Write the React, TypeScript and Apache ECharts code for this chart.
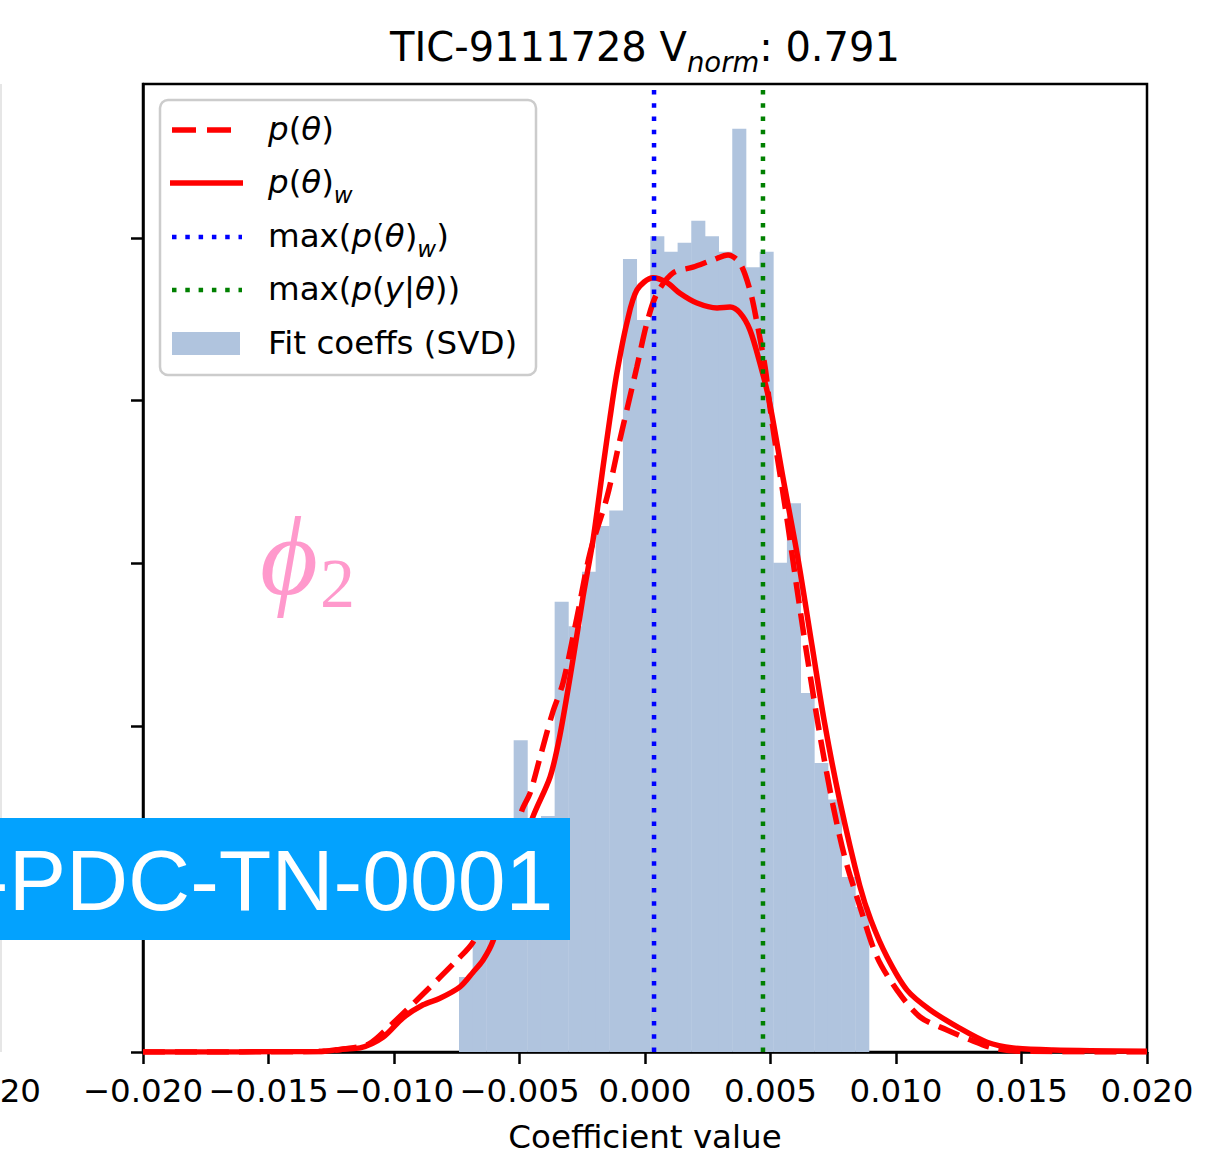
import React, { useEffect, useRef } from 'react';
import * as echarts from 'echarts';

// ---------- data ----------
const xTickMin = -0.02;
const xTickMax = 0.02;
const xTickStep = 0.005;
const yTickValues = [0, 20, 40, 60, 80, 100];
const yMax = 118.9;

// histogram (30 bins between binLo and binHi)
const binLo = -0.00741;
const binHi = 0.00892;
const histCounts = [
  9.2, 15.0, 18.7, 22.4, 38.3, 28.7, 29.0, 55.3, 52.3, 59.0,
  64.6, 66.5, 97.4, 89.9, 100.2, 98.3, 99.4, 102.1, 100.2, 98.3,
  113.4, 96.4, 98.3, 60.1, 67.4, 44.1, 35.5, 31.0, 21.5, 17.8,
];

// p(theta)_w  (solid)
const pwX = [
  -0.02, -0.013, -0.012, -0.01135, -0.01044, -0.00964, -0.00884, -0.00817, -0.00737, -0.00685,
  -0.00645, -0.00606, -0.00526, -0.00449, -0.00378, -0.00339, -0.00287, -0.00247, -0.00207, -0.00167,
  -0.00139, -0.00112, -0.00072, -0.00032, 0.00032, 0.00088, 0.00139, 0.00207, 0.00287, 0.00339,
  0.00378, 0.00418, 0.00458, 0.00495, 0.0055, 0.0061, 0.00665, 0.00715, 0.00775, 0.00855,
  0.009, 0.00964, 0.01044, 0.01135, 0.01255, 0.01363, 0.01466, 0.01625, 0.02,
];
const pwY = [
  0, 0.05, 0.37, 0.5, 1.8, 4.2, 5.8, 6.6, 8.0, 9.8,
  11.3, 13.6, 21.1, 28.7, 33.8, 38.9, 48.2, 55.9, 62.9, 71.9,
  78.0, 83.4, 89.6, 93.6, 95.1, 94.5, 93.2, 92.0, 91.4, 91.5,
  90.8, 88.7, 84.6, 80.0, 70.5, 60.5, 50.0, 40.5, 31.0, 20.5,
  16.2, 11.7, 7.6, 5.2, 2.9, 1.2, 0.5, 0.25, 0.1,
];

// p(theta)  (dashed)
const pX = [
  -0.02, -0.013, -0.012, -0.011, -0.0102, -0.00948, -0.00829, -0.00749, -0.00685, -0.00586,
  -0.0049, -0.00458, -0.00418, -0.00367, -0.00327, -0.00271, -0.00219, -0.00151, -0.001, -0.00072,
  -0.00032, 0.00008, 0.00048, 0.00112, 0.00191, 0.00271, 0.00331, 0.00378, 0.00418, 0.00446,
  0.00478, 0.00498, 0.00526, 0.00566, 0.00606, 0.00645, 0.00697, 0.00749, 0.00797, 0.00857,
  0.00924, 0.01004, 0.01096, 0.01203, 0.01295, 0.01386, 0.01494, 0.02,
];
const pY = [
  0, 0.05, 0.37, 1.0, 3.1, 5.2, 8.8, 11.3, 13.5, 19.9,
  29.7, 31.8, 36.2, 41.8, 45.3, 53.4, 61.3, 68.2, 75.2, 78.9,
  84.2, 89.6, 93.2, 95.7, 96.4, 97.3, 97.9, 96.9, 93.6, 89.6,
  84.2, 79.2, 73.3, 65.4, 56.8, 48.8, 38.9, 30.3, 23.8, 17.8,
  11.7, 7.6, 4.3, 2.7, 1.5, 0.5, 0.1, 0,
];

const maxPThetaW = 0.00036;
const maxPYTheta = 0.0047;

const FONT = "'DejaVu Sans', sans-serif";
const SERIF = "'Liberation Serif', 'DejaVu Serif', serif";

function fmtTick(v: number): string {
  const s = Math.abs(v).toFixed(3);
  return (v < -1e-9 ? '\u2212' : '') + s;
}

const legendRich: any = {
  r: { fontSize: 32.5, fontFamily: FONT, fill: '#000', color: '#000', lineHeight: 40, verticalAlign: 'top' },
  i: { fontSize: 32.5, fontFamily: FONT, fontStyle: 'italic', fill: '#000', color: '#000', lineHeight: 40, verticalAlign: 'top' },
  s: { fontSize: 23, fontFamily: FONT, fontStyle: 'italic', fill: '#000', color: '#000', lineHeight: 23, padding: [18, 0, 0, 0], verticalAlign: 'top' },
};

export default function App() {
  const ref = useRef<HTMLDivElement>(null);

  useEffect(() => {
    if (!ref.current) return;
    const chart = echarts.init(ref.current, undefined, { renderer: 'svg' });

    const binW = (binHi - binLo) / histCounts.length;
    const histData = histCounts.map((c, i) => [binLo + i * binW, binLo + (i + 1) * binW, c]);

    const legendX0 = 172;
    const legendTextX = 268;
    const rows = [130, 183, 237, 290, 343];
    const LZ = 60;
    const BZ = 100;

    const option: any = {
      animation: false,
      backgroundColor: '#ffffff',
      grid: {
        left: 143, right: 82, top: 84, bottom: 101,
        outerBoundsMode: 'none', containLabel: false,
        show: true, borderColor: '#000', borderWidth: 2.5, backgroundColor: 'transparent',
      },
      xAxis: {
        type: 'value', min: xTickMin, max: xTickMax, interval: xTickStep,
        axisLine: { show: true, onZero: false, lineStyle: { color: '#000', width: 2.5 } },
        axisTick: { show: true, length: 12, lineStyle: { color: '#000', width: 2.5 } },
        axisLabel: { margin: 22, fontSize: 32.5, color: '#000', fontFamily: FONT, formatter: fmtTick },
        splitLine: { show: false },
        name: 'Coefficient value', nameLocation: 'middle', nameGap: 70,
        nameTextStyle: { fontSize: 32.5, color: '#000', fontFamily: FONT, lineHeight: 30 },
      },
      yAxis: {
        type: 'value', min: 0, max: yMax, interval: 20,
        axisLine: { show: true, onZero: false, lineStyle: { color: '#000', width: 2.5 } },
        axisTick: { show: true, length: 12, customValues: yTickValues, lineStyle: { color: '#000', width: 2.5 } },
        axisLabel: { show: false },
        splitLine: { show: false },
      },
      series: [
        {
          type: 'custom', name: 'Fit coeffs (SVD)', z: 1, silent: true,
          data: histData,
          encode: { x: [0, 1], y: 2 },
          renderItem: (params: any, api: any) => {
            const x0 = api.value(0), x1 = api.value(1), h = api.value(2);
            const p0 = api.coord([x0, h]);
            const p1 = api.coord([x1, 0]);
            return {
              type: 'rect',
              shape: { x: p0[0], y: p0[1], width: p1[0] - p0[0] + 0.4, height: p1[1] - p0[1] },
              style: { fill: '#b0c4de' },
            };
          },
        },
        {
          type: 'line', name: 'p(θ)', z: 3, symbol: 'none', smooth: 0.3, silent: true,
          data: pX.map((x, i) => [x, pY[i]]),
          lineStyle: { color: '#ff0000', width: 5.5, type: [22, 10], cap: 'butt' },
        },
        {
          type: 'line', name: 'p(θ)_w', z: 3, symbol: 'none', smooth: 0.3, silent: true,
          data: pwX.map((x, i) => [x, pwY[i]]),
          lineStyle: { color: '#ff0000', width: 5.5 },
        },
        {
          type: 'line', name: 'max(p(θ)_w)', z: 4, symbol: 'none', silent: true,
          data: [[maxPThetaW, 0], [maxPThetaW, yMax]],
          lineStyle: { color: '#0000ff', width: 4.5, type: [4.5, 8.8], cap: 'butt' },
        },
        {
          type: 'line', name: 'max(p(y|θ))', z: 4, symbol: 'none', silent: true,
          data: [[maxPYTheta, 0], [maxPYTheta, yMax]],
          lineStyle: { color: '#008000', width: 4.5, type: [4.5, 8.8], cap: 'butt' },
        },
      ],
      graphic: [
        // faint neighbour frame at the left edge
        { type: 'line', z: 50, shape: { x1: 1, y1: 84, x2: 1, y2: 1052 }, style: { stroke: '#e6e6e6', lineWidth: 2 } },
        // partial neighbour tick label
        { type: 'text', z: 50, x: 41, y: 1074, style: { text: '0.020', fontSize: 32.5, fontFamily: FONT, fill: '#000', align: 'right', verticalAlign: 'top' } },
        // title
        {
          type: 'text', z: 50, x: 645, y: 27,
          style: {
            text: '{a|TIC-9111728 V}{s|norm}{a|: 0.791}',
            align: 'center', verticalAlign: 'top', fontSize: 40, fontFamily: FONT, fill: '#000',
            rich: {
              a: { fontSize: 40, fontFamily: FONT, fill: '#000', color: '#000', lineHeight: 46, verticalAlign: 'top' },
              s: { fontSize: 27.5, fontFamily: FONT, fontStyle: 'italic', fill: '#000', color: '#000', lineHeight: 27, padding: [21, 0, 0, 0], verticalAlign: 'top' },
            },
          },
        },
        // phi_2 annotation
        {
          type: 'text', z: 50, x: 260, y: 556,
          style: { text: 'ϕ', fontSize: 112, fontFamily: SERIF, fontStyle: 'italic', fill: '#ff99cc', align: 'left', verticalAlign: 'middle' },
        },
        {
          type: 'text', z: 50, x: 320, y: 583,
          style: { text: '2', fontSize: 70, fontFamily: SERIF, fill: '#ff99cc', align: 'left', verticalAlign: 'middle' },
        },
        // legend
        { type: 'rect', z: LZ, shape: { x: 160, y: 100, width: 376, height: 275, r: 8 }, style: { fill: 'rgba(255,255,255,0.85)', stroke: '#cccccc', lineWidth: 2.5 } },
        { type: 'line', z: LZ + 1, shape: { x1: legendX0, y1: rows[0], x2: legendX0 + 70, y2: rows[0] }, style: { stroke: '#ff0000', lineWidth: 5.5, lineDash: [24, 11] } },
        { type: 'line', z: LZ + 1, shape: { x1: legendX0 - 2, y1: rows[1], x2: legendX0 + 71, y2: rows[1] }, style: { stroke: '#ff0000', lineWidth: 5.5 } },
        { type: 'line', z: LZ + 1, shape: { x1: legendX0, y1: rows[2], x2: legendX0 + 70, y2: rows[2] }, style: { stroke: '#0000ff', lineWidth: 4.5, lineDash: [4.5, 8.8] } },
        { type: 'line', z: LZ + 1, shape: { x1: legendX0, y1: rows[3], x2: legendX0 + 70, y2: rows[3] }, style: { stroke: '#008000', lineWidth: 4.5, lineDash: [4.5, 8.8] } },
        { type: 'rect', z: LZ + 1, shape: { x: legendX0, y: rows[4] - 11, width: 68, height: 23 }, style: { fill: '#b0c4de' } },
        { type: 'text', z: LZ + 1, x: legendTextX, y: rows[0] + 2, style: { text: '{i|p}{r|(}{i|θ}{r|)}', rich: legendRich, fontSize: 32.5, fontFamily: FONT, fill: '#000', align: 'left', verticalAlign: 'middle' } },
        { type: 'text', z: LZ + 1, x: legendTextX, y: rows[1] + 2, style: { text: '{i|p}{r|(}{i|θ}{r|)}{s|w}', rich: legendRich, fontSize: 32.5, fontFamily: FONT, fill: '#000', align: 'left', verticalAlign: 'middle' } },
        { type: 'text', z: LZ + 1, x: legendTextX, y: rows[2] + 2, style: { text: '{r|max(}{i|p}{r|(}{i|θ}{r|)}{s|w}{r|)}', rich: legendRich, fontSize: 32.5, fontFamily: FONT, fill: '#000', align: 'left', verticalAlign: 'middle' } },
        { type: 'text', z: LZ + 1, x: legendTextX, y: rows[3] + 2, style: { text: '{r|max(}{i|p}{r|(}{i|y}{r||}{i|θ}{r|))}', rich: legendRich, fontSize: 32.5, fontFamily: FONT, fill: '#000', align: 'left', verticalAlign: 'middle' } },
        { type: 'text', z: LZ + 1, x: legendTextX, y: rows[4], style: { text: 'Fit coeffs (SVD)', fontSize: 32.5, fontFamily: FONT, fill: '#000', align: 'left', verticalAlign: 'middle' } },
        // banner
        { type: 'rect', z: BZ, shape: { x: 0, y: 818, width: 570, height: 122 }, style: { fill: '#03a2fe' } },
        { type: 'text', z: BZ + 1, x: -20, y: 880, style: { text: '-PDC-TN-0001', fontSize: 86, fontFamily: "'Liberation Sans', Arial, sans-serif", fill: '#ffffff', align: 'left', verticalAlign: 'middle' } },
      ],
    };

    chart.setOption(option);
    return () => chart.dispose();
  }, []);

  return (
    <div
      ref={ref}
      style={{ position: 'fixed', left: 0, top: 0, width: 1229, height: 1153, background: '#fff' }}
    />
  );
}
